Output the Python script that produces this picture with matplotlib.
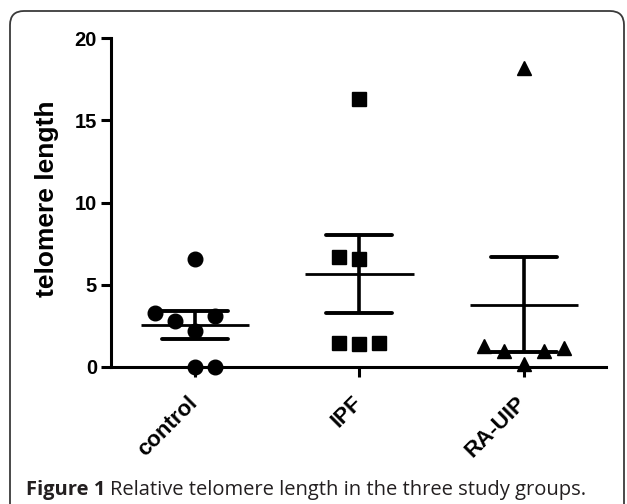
import matplotlib
matplotlib.use('Agg')
import matplotlib.pyplot as plt
import numpy as np
from matplotlib.patches import FancyBboxPatch
from matplotlib.transforms import IdentityTransform, ScaledTranslation

# Data
groups = ['control', 'IPF', 'RA-UIP']
control_vals = [6.57, 3.28, 2.80, 2.19, 3.10, 0.0, 0.0]
ipf_vals = [16.3, 6.70, 6.57, 1.46, 1.40, 1.46]
ra_uip_vals = [18.2, 1.28, 0.97, 0.97, 1.15, 0.20]

# horizontal slot of each point in the column scatter (layout only)
control_slots = [0, -2, -1, 0, 1, 0, 1]
ipf_slots = [0, -1, 0, -1, 0, 1]
ra_uip_slots = [0, -2, -1, 1, 2, 0]

markers = ['o', 's', '^']
y_ticks = [0, 5, 10, 15, 20]

W, H = 627, 504
fig = plt.figure(figsize=(W / 100, H / 100), dpi=100)
fig.patch.set_facecolor('white')

# rounded frame around the figure (open at the bottom)
frame = FancyBboxPatch((10, -30), 614, H - 11 + 30,
                       boxstyle='round,pad=0,rounding_size=14',
                       transform=IdentityTransform(), fill=False,
                       edgecolor='#3a3a3a', linewidth=1.3)
fig.patches.append(frame)

ax = fig.add_axes([111 / W, 1 - 367 / H, (606 - 111) / W, (367 - 38) / H])

slot_w = 0.1216
all_vals = [control_vals, ipf_vals, ra_uip_vals]
all_slots = [control_slots, ipf_slots, ra_uip_slots]

for i, (vals, slots, mk) in enumerate(zip(all_vals, all_slots, markers)):
    vals = np.array(vals)
    xs = i + np.array(slots) * slot_w
    ax.plot(xs, vals, linestyle='none', marker=mk, markersize=10.5,
            color='black', clip_on=False, zorder=3)
    mean = vals.mean()
    sem = vals.std(ddof=1) / np.sqrt(len(vals))
    ax.plot([i - 0.33, i + 0.33], [mean, mean], color='black', lw=2.0,
            solid_capstyle='butt', zorder=4)
    ax.plot([i, i], [mean - sem, mean + sem], color='black', lw=2.6,
            solid_capstyle='butt', zorder=4)
    for v in (mean - sem, mean + sem):
        ax.plot([i - 0.2, i + 0.2], [v, v], color='black', lw=2.8,
                solid_capstyle='round', zorder=4)

ax.set_xlim(-0.51, 2.5)
ax.set_ylim(0, 20)
ax.set_yticks(y_ticks)
ax.set_xticks(range(len(groups)))
ax.set_xticklabels([])
for lab in ax.get_yticklabels():
    lab.set_fontsize(14.5)
    lab.set_fontweight('bold')
    lab.set_family('Liberation Sans')

# rotated category labels, right tip just under each tick
lab_off = ScaledTranslation(7 / 100, -25 / 100, fig.dpi_scale_trans)
for i, name in enumerate(groups):
    ax.text(i, 0, name, rotation=45, ha='right', va='top',
            fontsize=16, fontweight='bold', family='Liberation Sans',
            transform=ax.get_xaxis_transform() + lab_off)

for side in ('top', 'right'):
    ax.spines[side].set_visible(False)
for side in ('left', 'bottom'):
    ax.spines[side].set_linewidth(2.2)
ax.tick_params(axis='both', width=2.2, length=7, direction='out', pad=3)

fig.text(47 / W, 1 - 199 / H, 'telomere length', rotation=90,
         ha='center', va='center', fontsize=19, fontweight='bold',
         family='Liberation Sans')

# caption: bold lead-in followed by regular text
cap_y = 1 - 495 / H
cap_size = 14.5
t1 = fig.text(26 / W, cap_y, 'Figure 1', fontsize=cap_size, fontweight='bold',
              family='Open Sans', color='#231f20', va='baseline')
fig.canvas.draw()
bb = t1.get_window_extent()
fig.text((bb.x1 + 5) / W, cap_y,
         'Relative telomere length in the three study groups.',
         fontsize=cap_size, family='Open Sans', color='#231f20',
         va='baseline')

fig.savefig('out.png', dpi=100)
